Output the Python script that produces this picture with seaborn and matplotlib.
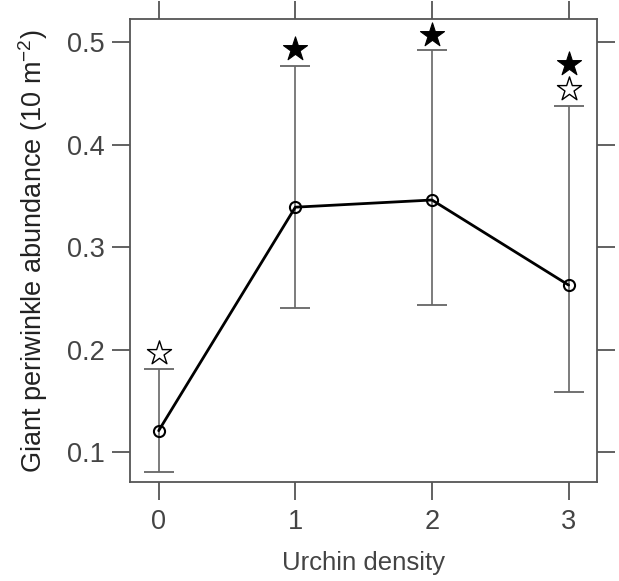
import numpy as np
import pandas as pd
import matplotlib
matplotlib.use("Agg")
import matplotlib.pyplot as plt
import seaborn as sns

# data
density = [0, 1, 2, 3]
mean_abund = [0.121, 0.339, 0.346, 0.263]
lower_ci = [0.081, 0.241, 0.244, 0.159]
upper_ci = [0.181, 0.477, 0.492, 0.438]

# significance stars (filled / open)
filled_x = [1, 2, 3]
filled_y = [0.493, 0.507, 0.479]
open_x = [0, 3]
open_y = [0.197, 0.454]

sns.set_theme(style="ticks")
plt.rcParams["font.family"] = ["Liberation Sans", "DejaVu Sans"]

frame_col = "#555555"
text_col = "#444444"

df = pd.DataFrame({"density": density, "mean": mean_abund,
                   "lo": lower_ci, "hi": upper_ci})

fig, ax = plt.subplots(figsize=(6.19, 5.81), dpi=100)
fig.subplots_adjust(left=0.21, right=0.965, top=0.967, bottom=0.17)

# error bars
ax.errorbar(df["density"], df["mean"],
            yerr=[df["mean"] - df["lo"], df["hi"] - df["mean"]],
            fmt="none", ecolor="#666666", elinewidth=1.2, capsize=11,
            capthick=1.3, zorder=1)

sns.lineplot(data=df, x="density", y="mean", ax=ax, color="black",
             linewidth=2, marker="o", markersize=8, markerfacecolor="none",
             markeredgecolor="black", markeredgewidth=1.5, zorder=3)

sns.scatterplot(x=filled_x, y=filled_y, ax=ax, marker="*", s=330,
                color="black", edgecolor="black", linewidth=0.8, zorder=4)
sns.scatterplot(x=open_x, y=open_y, ax=ax, marker="*", s=330,
                color="white", edgecolor="black", linewidth=1.0, zorder=4)

ax.set_xlim(-0.21, 3.21)
ax.set_ylim(0.0707, 0.5224)
ax.set_xticks(density)
ax.set_yticks([0.1, 0.2, 0.3, 0.4, 0.5])
ax.set_yticklabels(["0.1", "0.2", "0.3", "0.4", "0.5"])

for s in ax.spines.values():
    s.set_visible(True)
    s.set_color(frame_col)
    s.set_linewidth(1.3)

ax.tick_params(axis="both", which="both", direction="out", length=13,
               width=1.3, color=frame_col, labelsize=19.5, labelcolor=text_col,
               top=True, right=True, labeltop=False, labelright=False)
ax.tick_params(axis="x", pad=6)
ax.tick_params(axis="y", pad=5)

ax.set_xlabel("Urchin density", fontsize=18.5, color=text_col, labelpad=12)
ax.set_ylabel("Giant periwinkle abundance (10 m$^{\\mathregular{-2}}$)",
              fontsize=19.5, color="#222222", labelpad=12)

fig.savefig("out.png", dpi=100)
